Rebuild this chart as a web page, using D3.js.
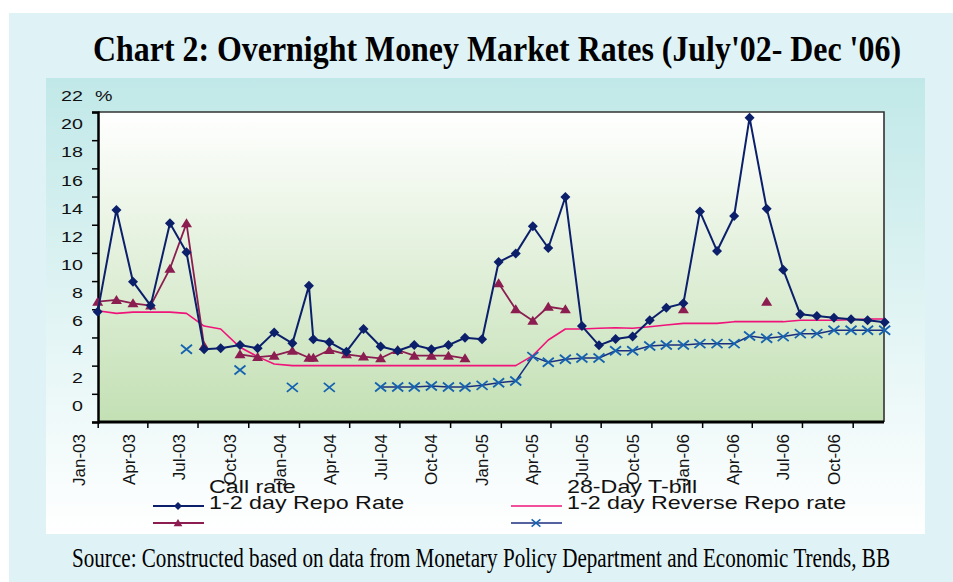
<!DOCTYPE html>
<html>
<head>
<meta charset="utf-8">
<script src="https://cdn.jsdelivr.net/npm/d3@7/dist/d3.min.js"></script>
<style>
  body { margin: 0; background: #fff; }
  svg { display: block; }
  .sans { font-family: "Liberation Sans", Arial, sans-serif; fill: #111; }
  .serif { font-family: "Liberation Serif", "Times New Roman", serif; fill: #000; }
</style>
</head>
<body>
<div id="chart"></div>
<script>
// observation dates (as plotted on the date axis; early 2003 points are irregular)
var dates = ["2003-01-01","2003-02-04","2003-03-06","2003-04-07","2003-05-12","2003-06-11",
  "2003-07-13","2003-08-12","2003-09-16","2003-10-18","2003-11-17","2003-12-20",
  "2004-01-19","2004-01-27","2004-02-25","2004-03-27","2004-04-27","2004-05-28",
  "2004-06-28","2004-07-28","2004-08-28","2004-09-28","2004-10-28","2004-11-28",
  "2004-12-28","2005-01-28","2005-02-28","2005-03-28","2005-04-28","2005-05-28",
  "2005-06-28","2005-07-28","2005-08-28","2005-09-28","2005-10-28","2005-11-28",
  "2005-12-28","2006-01-28","2006-02-28","2006-03-28","2006-04-28","2006-05-28",
  "2006-06-28","2006-07-28","2006-08-28","2006-09-28","2006-10-28","2006-11-28"];
var tickDates = ["2003-01-01","2003-04-01","2003-07-01","2003-10-01","2004-01-01","2004-04-01",
  "2004-07-01","2004-10-01","2005-01-01","2005-04-01","2005-07-01","2005-10-01",
  "2006-01-01","2006-04-01","2006-07-01","2006-10-01"];
var tickLabels = ["Jan-03","Apr-03","Jul-03","Oct-03","Jan-04","Apr-04","Jul-04","Oct-04",
  "Jan-05","Apr-05","Jul-05","Oct-05","Jan-06","Apr-06","Jul-06","Oct-06"];
var yTicks = [0,2,4,6,8,10,12,14,16,18,20,22];

// series values (%), null = no observation
var callRate = [7.83,15.05,9.96,8.26,14.1,12.04,5.16,5.23,5.46,5.23,6.36,5.58,
  9.67,5.87,5.66,4.99,6.6,5.36,5.06,5.46,5.16,5.46,5.98,5.87,
  11.35,11.95,13.89,12.35,15.97,6.81,5.44,5.89,6.07,7.22,8.11,8.42,
  14.93,12.14,14.62,21.6,15.14,10.81,7.64,7.52,7.4,7.29,7.22,7.08];
var repoRate = [8.54,8.66,8.42,8.26,10.88,14.1,5.39,null,4.8,4.61,4.71,5.06,
  4.56,4.56,5.11,4.8,4.64,4.52,5.11,4.71,4.71,4.71,4.52,null,
  9.84,8.0,7.19,8.18,8.0,null,null,null,null,null,null,8.0,
  null,null,null,null,8.54,null,null,null,null,null,null,null];
var tBill = [7.9,7.71,7.8,7.8,7.8,7.71,6.81,6.6,5.3,4.64,4.12,4.0,
  4.0,4.0,4.0,4.0,4.0,4.0,4.0,4.0,4.0,4.0,4.0,4.0,
  4.0,4.0,4.71,5.82,6.6,6.6,6.65,6.69,6.65,6.76,6.88,7.0,
  7.0,7.0,7.12,7.12,7.12,7.12,7.22,7.22,7.22,7.26,7.31,7.31];
var reverseRepo = [null,null,null,null,null,5.16,null,null,3.69,null,null,2.46,
  null,null,2.46,null,null,2.48,2.48,2.48,2.55,2.48,2.48,2.6,
  2.79,2.91,4.64,4.24,4.45,4.54,4.54,5.06,5.06,5.39,5.46,5.46,
  5.56,5.56,5.56,6.1,5.94,6.06,6.27,6.27,6.51,6.51,6.51,6.51];

(function() {
var W = 953, H = 582;
var parse = d3.timeParse("%Y-%m-%d");
var svg = d3.select("#chart").append("svg").attr("width", W).attr("height", H);
var defs = svg.append("defs");

var g1 = defs.append("linearGradient").attr("id", "chartBg").attr("x1", 0).attr("y1", 0).attr("x2", 0).attr("y2", 1);
g1.append("stop").attr("offset", "0%").attr("stop-color", "#c1e8e8");
g1.append("stop").attr("offset", "100%").attr("stop-color", "#ffffff");
var g2 = defs.append("linearGradient").attr("id", "plotBg").attr("x1", 0).attr("y1", 0).attr("x2", 0).attr("y2", 1);
g2.append("stop").attr("offset", "0%").attr("stop-color", "#ffffff");
g2.append("stop").attr("offset", "100%").attr("stop-color", "#c3e0b4");

// panels
svg.append("rect").attr("x", 9).attr("y", 13).attr("width", W - 9).attr("height", H - 13).attr("fill", "#dff3f6");
svg.append("rect").attr("x", 46).attr("y", 78).attr("width", 879).attr("height", 456).attr("fill", "url(#chartBg)");

var pLeft = 98, pRight = 884, pTop = 112, pBottom = 422;
svg.append("rect").attr("x", pLeft).attr("y", pTop).attr("width", pRight - pLeft).attr("height", pBottom - pTop)
  .attr("fill", "url(#plotBg)");

var x = d3.scaleTime().domain([parse(tickDates[0]), parse(tickDates[tickDates.length - 1])]).range([97.7, 852.7]);
var y = d3.scaleLinear().domain([0, 22]).range([pBottom, pTop]);

// frame (top and right)
svg.append("path").attr("d", "M" + pLeft + "," + pTop + "H" + pRight + "V" + pBottom)
  .attr("fill", "none").attr("stroke", "#333").attr("stroke-width", 1.6);

// y axis
var yAxis = svg.append("g").attr("transform", "translate(" + pLeft + ",0)")
  .call(d3.axisLeft(y).tickValues(yTicks).tickSize(6).tickFormat(""));
yAxis.select(".domain").attr("stroke", "#000").attr("stroke-width", 2.5);
yAxis.selectAll(".tick line").attr("stroke", "#000").attr("stroke-width", 1.5);
yTicks.forEach(function(v) {
  svg.append("text").attr("class", "sans")
    .attr("transform", "translate(83," + (y(v) - 11) + ") scale(1.27,1)")
    .attr("text-anchor", "end").style("font-size", "15.5px").text(v);
});
svg.append("text").attr("class", "sans")
  .attr("transform", "translate(95,101) scale(1.27,1)")
  .style("font-size", "15.5px").text("%");

// x axis (domain line spans the whole plot width)
var xAxis = svg.append("g").attr("transform", "translate(0," + pBottom + ")")
  .call(d3.axisBottom(x).tickValues(tickDates.map(parse)).tickSize(6).tickFormat(""));
xAxis.select(".domain").remove();
xAxis.append("line").attr("x1", pLeft).attr("x2", pRight).attr("stroke", "#000").attr("stroke-width", 3);
xAxis.selectAll(".tick line").attr("stroke", "#000").attr("stroke-width", 1.5);
tickDates.forEach(function(d, i) {
  svg.append("text").attr("class", "sans")
    .attr("transform", "translate(" + (x(parse(d)) - 12.7) + ",434) rotate(-90)")
    .attr("text-anchor", "end").style("font-size", "17px").text(tickLabels[i]);
});

// series
function toPts(arr) {
  return arr.map(function(v, i) { return { d: parse(dates[i]), v: v }; });
}
var line = d3.line().defined(function(d) { return d.v != null; })
  .x(function(d) { return x(d.d); }).y(function(d) { return y(d.v); });

var diamond = "M0,-5L5,0L0,5L-5,0Z";
var triangle = "M0,-5L5.5,4L-5.5,4Z";
var cross = "M-5.5,-4.5L5.5,4.5M-5.5,4.5L5.5,-4.5";

var series = [
  { name: "Call rate", data: callRate, line: "#0b1f6b", lw: 2, marker: diamond, mfill: "#0b1f6b", mstroke: "none" },
  { name: "1-2 day Repo Rate", data: repoRate, line: "#8c1d50", lw: 1.8, marker: triangle, mfill: "#8c1d50", mstroke: "none" },
  { name: "28-Day T-bill", data: tBill, line: "#f0137a", lw: 1.6, marker: null },
  { name: "1-2 day Reverse Repo rate", data: reverseRepo, line: "#1b2f80", lw: 1.5, marker: cross, mfill: "none", mstroke: "#1563b0" }
];

// draw back to front
[2, 3, 1, 0].forEach(function(k) {
  var s = series[k];
  var pts = toPts(s.data);
  svg.append("path").datum(pts).attr("d", line)
    .attr("fill", "none").attr("stroke", s.line).attr("stroke-width", s.lw).attr("stroke-linejoin", "round");
  if (s.marker) {
    svg.selectAll(null).data(pts.filter(function(d) { return d.v != null; }))
      .enter().append("path")
      .attr("d", s.marker)
      .attr("transform", function(d) { return "translate(" + x(d.d) + "," + y(d.v) + ")"; })
      .attr("fill", s.mfill).attr("stroke", s.mstroke).attr("stroke-width", 1.8);
  }
});

// legend: labels sit above their keys, as in the original
var legendPos = [
  { tx: 209, ty: 493, lx: 153, ly: 506 },
  { tx: 209, ty: 509, lx: 153, ly: 523 },
  { tx: 567, ty: 493, lx: 511, ly: 506 },
  { tx: 567, ty: 509, lx: 511, ly: 523 }
];
series.forEach(function(s, k) {
  var p = legendPos[k];
  svg.append("text").attr("class", "sans")
    .attr("transform", "translate(" + p.tx + "," + p.ty + ") scale(1.33,1)")
    .style("font-size", "17.5px").text(s.name);
  svg.append("line").attr("x1", p.lx).attr("x2", p.lx + 51).attr("y1", p.ly).attr("y2", p.ly)
    .attr("stroke", s.line).attr("stroke-width", s.lw);
  if (s.marker) {
    svg.append("path").attr("d", s.marker)
      .attr("transform", "translate(" + (p.lx + 25) + "," + p.ly + ") scale(0.8)")
      .attr("fill", s.mfill).attr("stroke", s.mstroke).attr("stroke-width", 1.8);
  }
});

// title and source
svg.append("text").attr("class", "serif")
  .attr("x", 93).attr("y", 61)
  .attr("textLength", 808).attr("lengthAdjust", "spacingAndGlyphs")
  .style("font-size", "36px").style("font-weight", "bold")
  .text("Chart 2: Overnight Money Market Rates (July'02- Dec '06)");
svg.append("text").attr("class", "serif")
  .attr("x", 72).attr("y", 567)
  .attr("textLength", 818).attr("lengthAdjust", "spacingAndGlyphs")
  .style("font-size", "28px")
  .text("Source: Constructed based on data from Monetary Policy Department and Economic Trends, BB");
})();
</script>
</body>
</html>
